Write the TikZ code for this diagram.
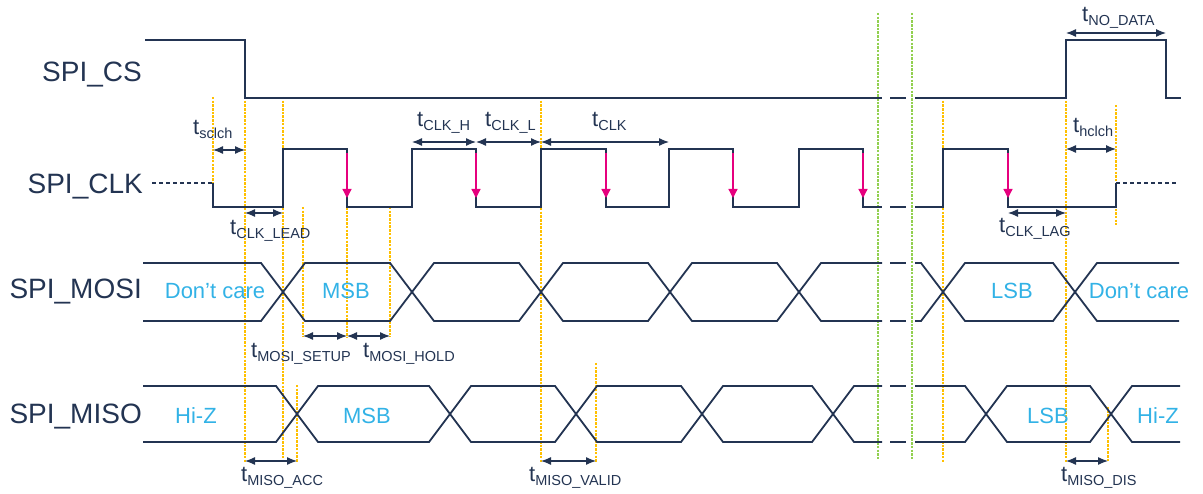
\documentclass[tikz,border=0pt]{standalone}
\usepackage{fontspec}
\setmainfont{Liberation Sans}
\usetikzlibrary{arrows.meta}
\definecolor{navy}{RGB}{35,52,82}
\definecolor{cyanT}{RGB}{50,178,230}
\definecolor{pinkA}{RGB}{230,0,126}
\definecolor{yel}{RGB}{255,192,0}
\definecolor{grn}{RGB}{146,208,80}
\newcommand{\tlab}[1]{{\fontsize{22}{24}\selectfont t}\raisebox{-4pt}{\fontsize{14.5}{16}\selectfont #1}}
\begin{document}
\begin{tikzpicture}[x=1pt,y=-1pt,
  sig/.style={navy,line width=1.8pt},
  guide/.style={yel,line width=1.3pt,dash pattern=on 2.5pt off 1.2pt},
  gguide/.style={grn,line width=1.3pt,dash pattern=on 2.5pt off 1.2pt},
  dim/.style={navy,line width=1.2pt,{Latex[length=10pt,width=8pt]}-{Latex[length=10pt,width=8pt]}},
  fall/.style={pinkA,line width=1.3pt,-{Triangle[length=9pt,width=9pt]}},
  signame/.style={navy,font=\fontsize{28}{30}\selectfont,anchor=base east,inner sep=0pt},
  val/.style={cyanT,font=\fontsize{22}{24}\selectfont,anchor=base,inner sep=0pt},
  tl/.style={navy,anchor=base west,inner sep=0pt}
]
\useasboundingbox (0,0) rectangle (1203,494);

% guide lines
\draw[gguide] (878,13) -- (878,460);
\draw[gguide] (912,13) -- (912,460);
\draw[guide] (213,97) -- (213,207);
\draw[guide] (245,97) -- (245,462);
\draw[guide] (283,97) -- (283,462);
\draw[guide] (303,207) -- (303,337);
\draw[guide] (347,200) -- (347,337);
\draw[guide] (390,207) -- (390,337);
\draw[guide] (297,385) -- (297,462);
\draw[guide] (541,97) -- (541,462);
\draw[guide] (596,363) -- (596,462);
\draw[guide] (943,97) -- (943,462);
\draw[guide] (1066,97) -- (1066,462);
\draw[guide] (1116,105) -- (1116,225);
\draw[guide] (1108,407) -- (1108,462);

% signal names
\node[signame] (ncs) at (142,82) {SPI\_CS};
\node[signame] (nclk) at (143,194) {SPI\_CLK};
\node[signame] (nmosi) at (142,299) {SPI\_MOSI};
\node[signame] (nmiso) at (142,424) {SPI\_MISO};

% CS
\draw[sig] (145,40) -- (245,40) -- (245,98) -- (882,98);
\draw[sig] (890,98) -- (906,98);
\draw[sig] (915,98) -- (1066,98) -- (1066,40) -- (1166,40) -- (1166,98) -- (1181,98);

% CLK
\draw[navy,line width=1.3pt,dash pattern=on 4pt off 3pt] (152,183) -- (213,183);
\draw[sig] (213,183) -- (213,207) -- (283,207) -- (283,149) -- (347,149) -- (347,207)
  -- (412,207) -- (412,149) -- (476,149) -- (476,207) -- (541,207) -- (541,149)
  -- (606,149) -- (606,207) -- (669,207) -- (669,149) -- (733,149) -- (733,207)
  -- (799,207) -- (799,149) -- (863,149) -- (863,207) -- (882,207);
\draw[sig] (890,207) -- (906,207);
\draw[sig] (915,207) -- (943,207) -- (943,149) -- (1008,149) -- (1008,207) -- (1116,207) -- (1116,183);
\draw[navy,line width=1.3pt,dash pattern=on 4pt off 3pt] (1116,183) -- (1178,183);
\foreach \x in {347,476,606,733,863,1008}
  \draw[fall] (\x,153) -- (\x,198);

% MOSI
\draw[sig] (143,263) -- (261,263) -- (305,321) -- (390,321) -- (434,263) -- (519,263) -- (563,321)
  -- (648,321) -- (692,263) -- (777,263) -- (821,321) -- (882,321);
\draw[sig] (143,321) -- (261,321) -- (305,263) -- (390,263) -- (434,321) -- (519,321) -- (563,263)
  -- (648,263) -- (692,321) -- (777,321) -- (821,263) -- (882,263);
\draw[sig] (890,263) -- (906,263);
\draw[sig] (890,321) -- (906,321);
\draw[sig] (915,321) -- (921,321) -- (965,263) -- (1053,263) -- (1097,321) -- (1179,321);
\draw[sig] (915,263) -- (921,263) -- (965,321) -- (1053,321) -- (1097,263) -- (1179,263);

% MISO
\draw[sig] (143,386) -- (276,386) -- (318,442) -- (429,442) -- (471,386) -- (555,386) -- (597,442)
  -- (681,442) -- (723,386) -- (812,386) -- (854,442) -- (882,442);
\draw[sig] (143,442) -- (276,442) -- (318,386) -- (429,386) -- (471,442) -- (555,442) -- (597,386)
  -- (681,386) -- (723,442) -- (812,442) -- (854,386) -- (882,386);
\draw[sig] (890,386) -- (906,386);
\draw[sig] (890,442) -- (906,442);
\draw[sig] (915,442) -- (965,442) -- (1007,386) -- (1090,386) -- (1132,442) -- (1180,442);
\draw[sig] (915,386) -- (965,386) -- (1007,442) -- (1090,442) -- (1132,386) -- (1180,386);

% values
\node[val] (v1) at (215,299) {Don’t care};
\node[val] (v2) at (346,299) {MSB};
\node[val] (v3) at (1012,299) {LSB};
\node[val] (v4) at (1139,299) {Don’t care};
\node[val] (v5) at (196,424) {Hi-Z};
\node[val] (v6) at (367,424) {MSB};
\node[val] (v7) at (1048,424) {LSB};
\node[val] (v8) at (1158,424) {Hi-Z};

% dimension arrows
\draw[dim] (213,150) -- (245,150);
\draw[dim] (245,213) -- (283,213);
\draw[dim] (412,142) -- (476,142);
\draw[dim] (476,142) -- (541,142);
\draw[dim] (541,142) -- (669,142);
\draw[dim] (1066,33) -- (1166,33);
\draw[dim] (1066,149) -- (1116,149);
\draw[dim] (1008,213) -- (1066,213);
\draw[dim] (303,336) -- (347,336);
\draw[dim] (347,336) -- (390,336);
\draw[dim] (245,461) -- (297,461);
\draw[dim] (541,461) -- (596,461);
\draw[dim] (1066,461) -- (1108,461);

% timing labels
\node[tl] (l1) at (193,135) {\tlab{sclch}};
\node[tl] (l2) at (230,235) {\tlab{CLK\_LEAD}};
\node[tl] (l3) at (417,127) {\tlab{CLK\_H}};
\node[tl] (l4) at (485,127) {\tlab{CLK\_L}};
\node[tl] (l5) at (592,127) {\tlab{CLK}};
\node[tl] (l6) at (1082,22) {\tlab{NO\_DATA}};
\node[tl] (l7) at (1073,133) {\tlab{hclch}};
\node[tl] (l8) at (999,233) {\tlab{CLK\_LAG}};
\node[tl] (l9) at (251,358) {\tlab{MOSI\_SETUP}};
\node[tl] (l10) at (363,358) {\tlab{MOSI\_HOLD}};
\node[tl] (l11) at (241,481) {\tlab{MISO\_ACC}};
\node[tl] (l12) at (529,481) {\tlab{MISO\_VALID}};
\node[tl] (l13) at (1061,481) {\tlab{MISO\_DIS}};
\end{tikzpicture}
\end{document}
